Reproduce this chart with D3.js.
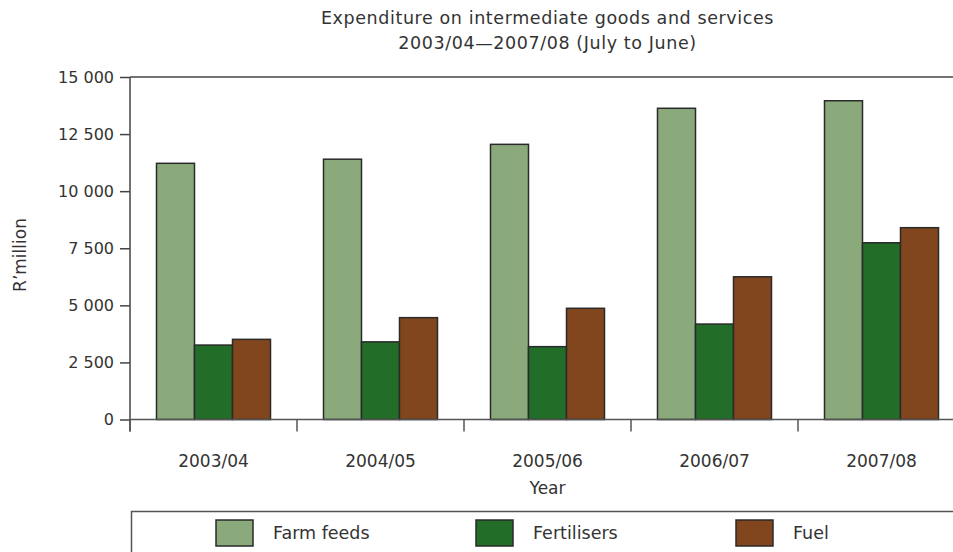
<!DOCTYPE html>
<html>
<head>
<meta charset="utf-8">
<script src="https://cdn.jsdelivr.net/npm/d3@7/dist/d3.min.js"></script>
<style>
  html, body { margin: 0; padding: 0; background: #fff; }
  svg { display: block; }
  text { font-family: "DejaVu Sans", "Liberation Sans", sans-serif; fill: #333; }
</style>
</head>
<body>
<svg id="chart" width="953" height="552"></svg>
<script>
const years = ["2003/04", "2004/05", "2005/06", "2006/07", "2007/08"];
const seriesNames = ["Farm feeds", "Fertilisers", "Fuel"];
const farmFeeds = [11220, 11400, 12050, 13630, 13960];
const fertilisers = [3260, 3400, 3190, 4180, 7740];
const fuel = [3510, 4460, 4870, 6250, 8400];
const seriesColors = ["#8aaa7c", "#226e28", "#82461e"];
const yTicks = [0, 2500, 5000, 7500, 10000, 12500, 15000];
const titleLines = ["Expenditure on intermediate goods and services", "2003/04\u20142007/08 (July to June)"];

(function () {
const seriesValues = [farmFeeds, fertilisers, fuel];
const data = years.map((yr, i) => ({
  year: yr,
  values: seriesNames.map((s, j) => ({ series: s, value: seriesValues[j][i], color: seriesColors[j] }))
}));

const svg = d3.select("#chart");
const W = 953;
const mLeft = 130, mRight = 965, mTop = 77, mBottom = 419.5;

const x = d3.scaleBand().domain(years).range([mLeft, mRight]).padding(0);
const bw = x.bandwidth();
const barW = 38;
const xs = d3.scaleBand().domain(seriesNames).range([(bw - 3 * barW) / 2, (bw + 3 * barW) / 2]).padding(0);
const y = d3.scaleLinear().domain([0, 15000]).range([mBottom, mTop]);

const loc = d3.formatLocale({ decimal: ".", thousands: " ", grouping: [3], currency: ["", ""] });
const fmt = loc.format(",");

// title
svg.selectAll("text.title").data(titleLines).join("text")
  .attr("class", "title")
  .attr("x", (mLeft + mRight) / 2)
  .attr("y", (d, i) => 24 + i * 25)
  .attr("text-anchor", "middle")
  .style("font-size", "17.5px")
  .style("letter-spacing", "0.6px")
  .text(d => d);

// top border line
svg.append("line")
  .attr("x1", mLeft).attr("x2", W)
  .attr("y1", y(15000)).attr("y2", y(15000))
  .attr("stroke", "#444").attr("stroke-width", 1.5);

// bars
const g = svg.append("g");
const groups = g.selectAll("g.grp").data(data).join("g")
  .attr("class", "grp")
  .attr("transform", d => `translate(${x(d.year)},0)`);
groups.selectAll("rect").data(d => d.values).join("rect")
  .attr("x", d => xs(d.series))
  .attr("width", xs.bandwidth())
  .attr("y", d => y(d.value))
  .attr("height", d => y(0) - y(d.value))
  .attr("fill", d => d.color)
  .attr("stroke", "#2a2a2a")
  .attr("stroke-width", 1.5);

// y axis
const yAxis = d3.axisLeft(y).tickValues(yTicks).tickFormat(fmt).tickSize(10).tickPadding(6);
const yg = svg.append("g").attr("transform", `translate(${mLeft},0)`).call(yAxis);
yg.select(".domain").remove();
yg.selectAll(".tick line").attr("stroke", "#444").attr("stroke-width", 1.5);
yg.selectAll(".tick text").style("font-size", "16px").style("font-family", "DejaVu Sans, sans-serif").attr("fill", "#333");
svg.append("line")
  .attr("x1", mLeft).attr("x2", mLeft)
  .attr("y1", y(15000)).attr("y2", mBottom + 12)
  .attr("stroke", "#444").attr("stroke-width", 1.5);

// x axis
svg.append("line")
  .attr("x1", mLeft).attr("x2", W)
  .attr("y1", mBottom).attr("y2", mBottom)
  .attr("stroke", "#555").attr("stroke-width", 1.5);
svg.selectAll("line.xtick").data(years).join("line")
  .attr("class", "xtick")
  .attr("x1", d => x(d)).attr("x2", d => x(d))
  .attr("y1", mBottom).attr("y2", mBottom + 12)
  .attr("stroke", "#555").attr("stroke-width", 1.5);
svg.selectAll("text.xlab").data(years).join("text")
  .attr("class", "xlab")
  .attr("x", d => x(d) + bw / 2)
  .attr("y", 467)
  .attr("text-anchor", "middle")
  .style("font-size", "17px")
  .text(d => d);

// axis titles
svg.append("text")
  .attr("x", (mLeft + mRight) / 2)
  .attr("y", 494)
  .attr("text-anchor", "middle")
  .style("font-size", "17px")
  .text("Year");
svg.append("text")
  .attr("transform", "translate(26,255) rotate(-90)")
  .attr("text-anchor", "middle")
  .style("font-size", "17px")
  .text("R\u2019million");

// legend
svg.append("rect")
  .attr("x", 131.5).attr("y", 511.5)
  .attr("width", 900).attr("height", 80)
  .attr("fill", "none").attr("stroke", "#555").attr("stroke-width", 1.5);
const legendX = d3.scalePoint().domain(seriesNames).range([216, 736]);
const lg = svg.selectAll("g.leg").data(seriesNames).join("g")
  .attr("class", "leg")
  .attr("transform", d => `translate(${legendX(d)},520)`);
lg.append("rect")
  .attr("width", 37).attr("height", 26)
  .attr("fill", (d, i) => seriesColors[i])
  .attr("stroke", "#2a2a2a").attr("stroke-width", 1.5);
lg.append("text")
  .attr("x", 57).attr("y", 18.5)
  .style("font-size", "17.5px")
  .text(d => d);
})();
</script>
</body>
</html>
